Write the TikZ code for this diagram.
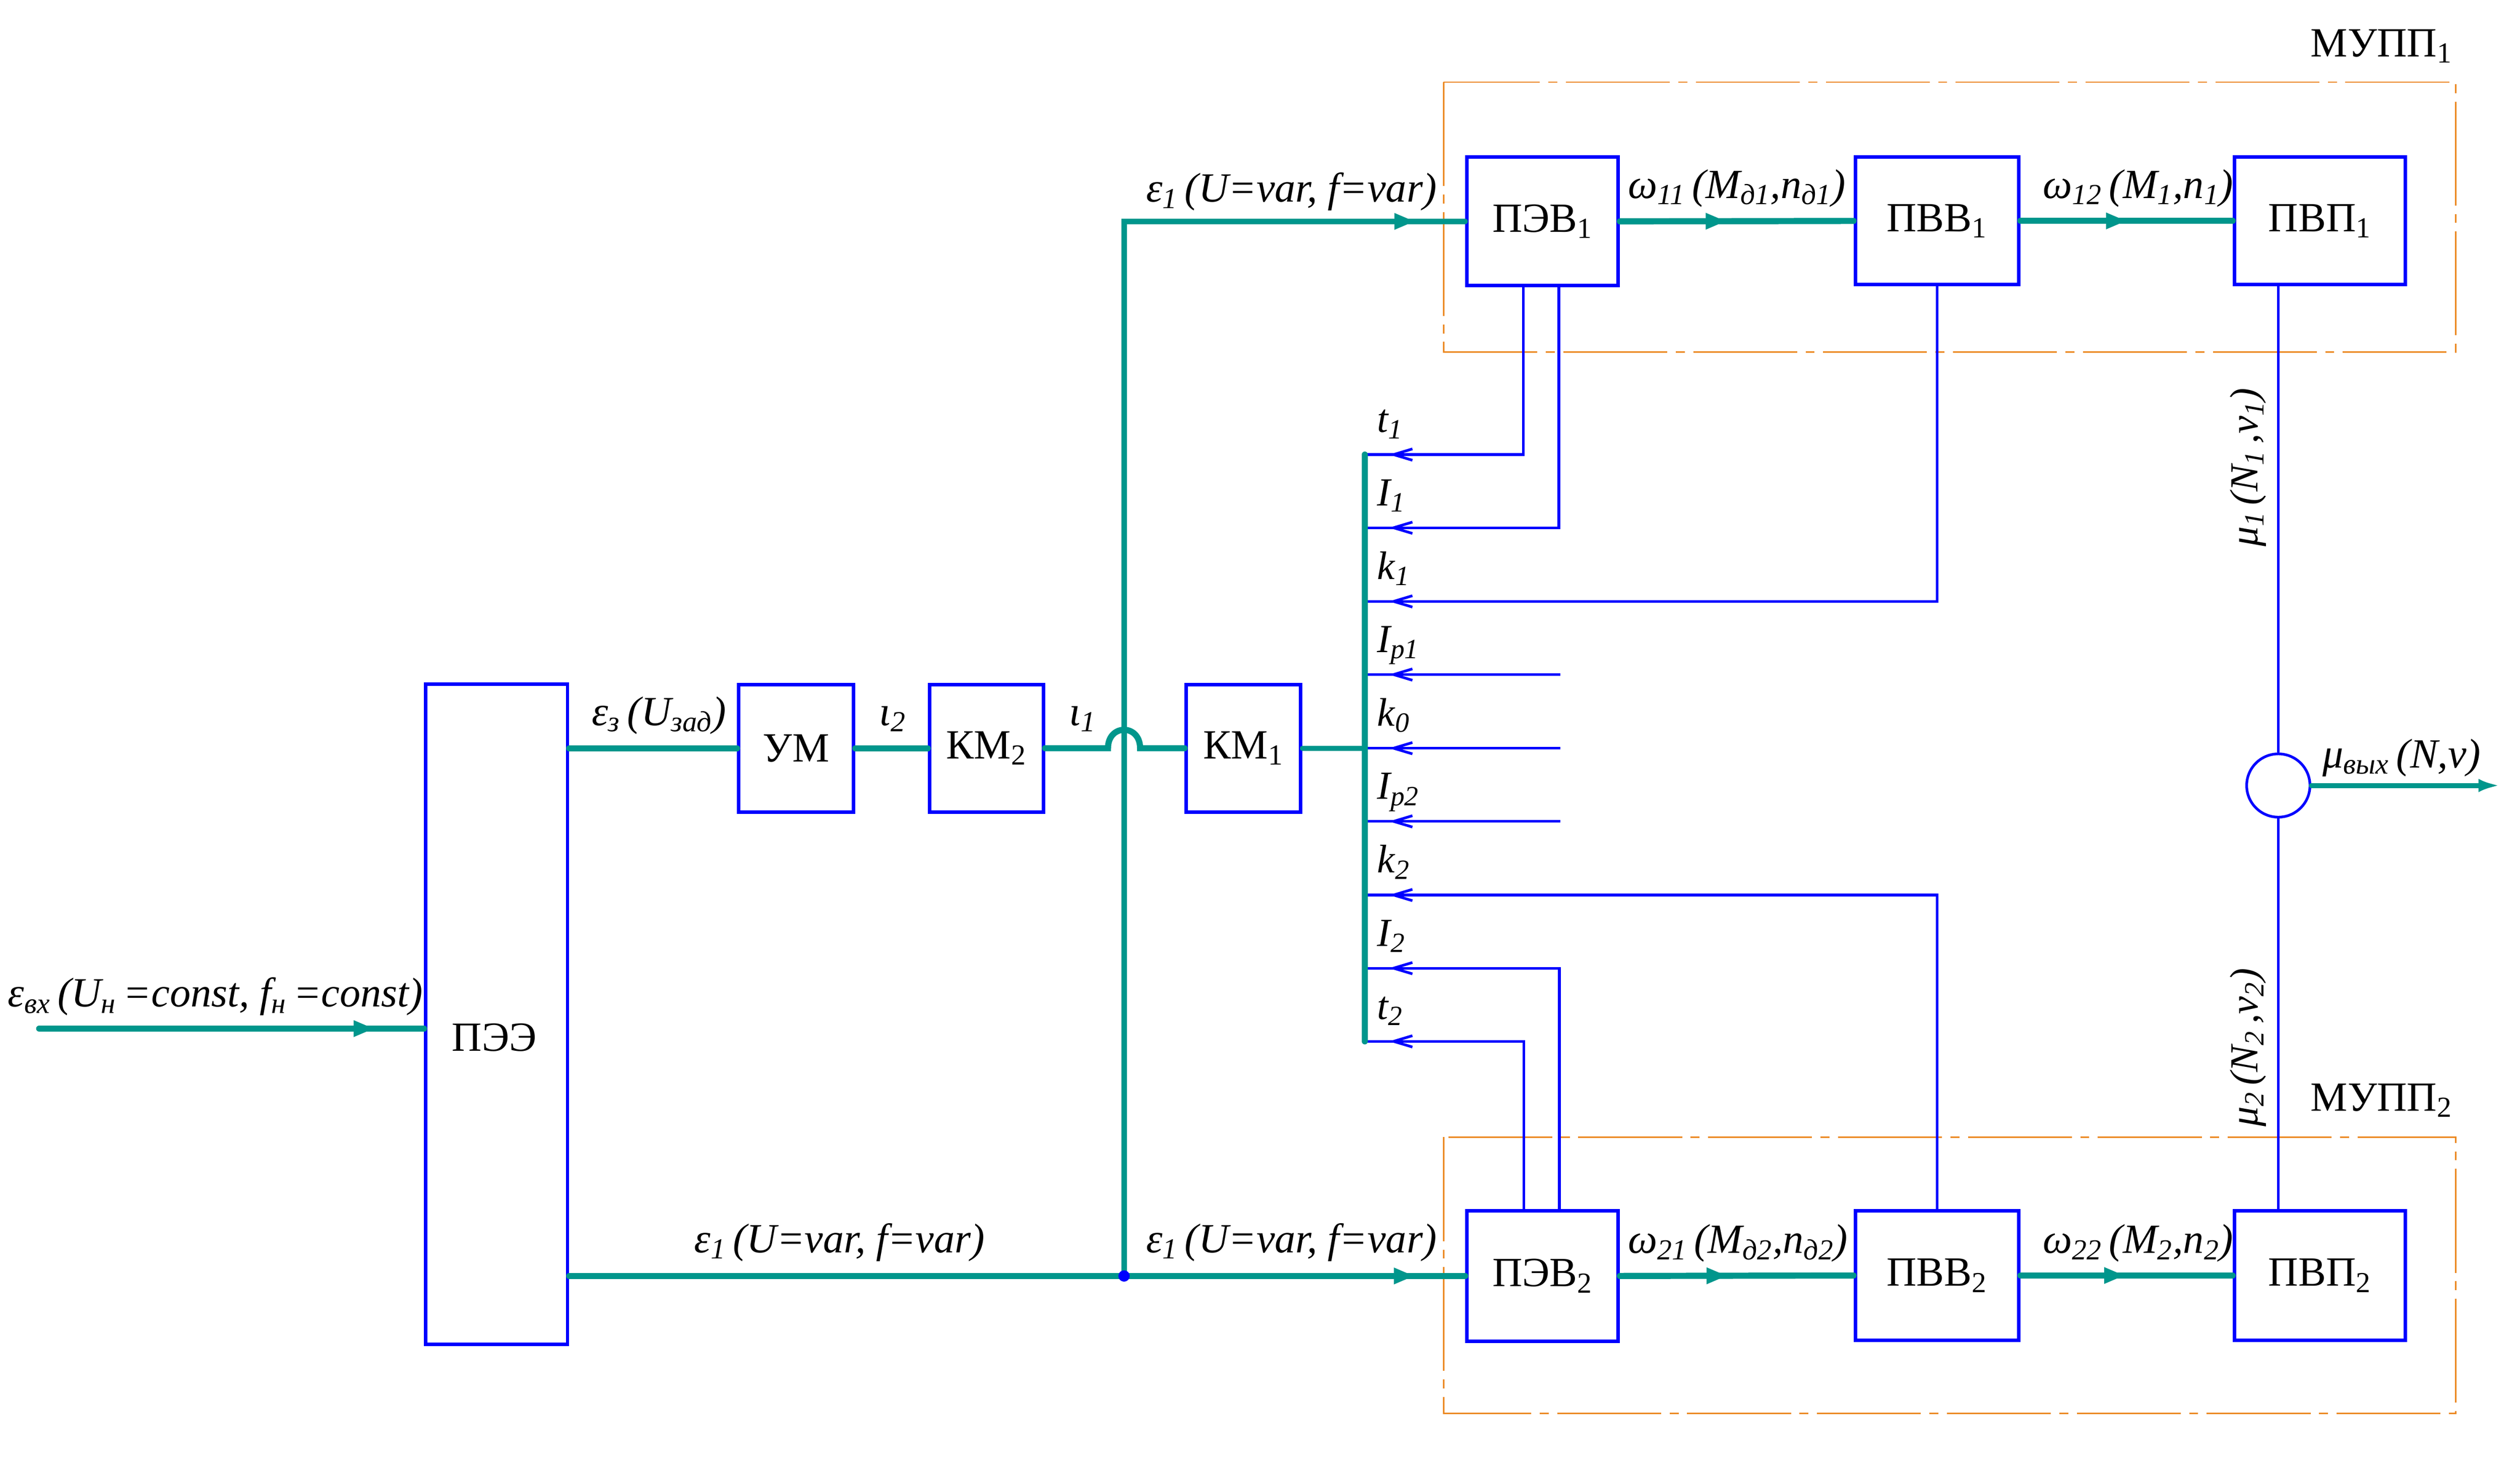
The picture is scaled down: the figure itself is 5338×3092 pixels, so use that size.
\documentclass[tikz,border=0pt]{standalone}
\usepackage{fontspec}
\setmainfont{Liberation Serif}
\usetikzlibrary{arrows.meta,decorations.markings,calc}
\definecolor{teal1}{RGB}{0,150,140}
\definecolor{blu}{RGB}{0,0,255}
\definecolor{orng}{RGB}{235,135,30}
\begin{document}
\begin{tikzpicture}[x=0.01cm,y=-0.01cm,
 blk/.style={draw=blu,line width=2.1pt,fill=white,inner sep=0pt,font=\fontsize{25}{30}\selectfont},
 sig/.style={draw=teal1,line width=3.7pt,line cap=round},
 fb/.style={draw=blu,line width=1.6pt},
 tarr/.style={postaction={decorate,decoration={markings,mark=at position #1 with {\arrow{Triangle[length=0.44cm,width=0.32cm]}}}}},
 barr/.style={postaction={decorate,decoration={markings,mark=at position #1 with {\arrow{Straight Barb[length=0.4cm,width=0.24cm,line width=1.6pt]}}}}},
 lbl/.style={anchor=base west,inner sep=0pt,font=\itshape\fontsize{25}{30}\selectfont},
 slbl/.style={anchor=base west,inner sep=0pt,font=\itshape\fontsize{24}{28}\selectfont},
 rlbl/.style={rotate=90,inner sep=0pt,font=\itshape\fontsize{24}{28}\selectfont},
 grp/.style={draw=orng,line width=0.8pt,dash pattern=on 2.2cm off 0.18cm on 0.19cm off 0.18cm},
 ttl/.style={anchor=base west,inner sep=0pt,font=\fontsize{25}{30}\selectfont},
]
\fill[white] (0,0) rectangle (5338,3092);
\useasboundingbox (0,0) rectangle (5338,3092);

% group frames
\draw[grp] (3058,174) rectangle (5202,746);
\draw[grp] (3058,2409) rectangle (5202,2994);

% blocks
\node[blk,minimum width=3cm,minimum height=13.97cm] (pee) at (1052,2148.5) {};
\node[inner sep=0pt,font=\fontsize{25}{30}\selectfont] (peet) at (1047,2198) {ПЭЭ};
\node[blk,minimum width=2.43cm,minimum height=2.7cm] (um) at (1686.5,1585) {УМ};
\node[blk,minimum width=2.41cm,minimum height=2.7cm] (km2) at (2089.5,1585) {КМ\textsubscript{2}};
\node[blk,minimum width=2.42cm,minimum height=2.7cm] (km1) at (2634,1585) {КМ\textsubscript{1}};
\node[blk,minimum width=3.2cm,minimum height=2.72cm] (pev1) at (3267.5,469) {ПЭВ\textsubscript{1}};
\node[blk,minimum width=3.46cm,minimum height=2.7cm] (pvv1) at (4103,468) {ПВВ\textsubscript{1}};
\node[blk,minimum width=3.62cm,minimum height=2.7cm] (pvp1) at (4914,468) {ПВП\textsubscript{1}};
\node[blk,minimum width=3.2cm,minimum height=2.76cm] (pev2) at (3267.5,2703) {ПЭВ\textsubscript{2}};
\node[blk,minimum width=3.46cm,minimum height=2.74cm] (pvv2) at (4103,2702) {ПВВ\textsubscript{2}};
\node[blk,minimum width=3.62cm,minimum height=2.74cm] (pvp2) at (4914,2702) {ПВП\textsubscript{2}};
\node[circle,draw=blu,line width=1.6pt,fill=white,minimum size=1.34cm,inner sep=0pt] (sum) at (4826,1664) {};

% coordinates
\coordinate (in) at (83,2179);
\coordinate (jn) at (2381,2703);
\coordinate (cr) at (2381,1585);
\coordinate (bt) at (2891,963);
\coordinate (bb) at (2891,2206);
\coordinate (ft1) at (3227,963);
\coordinate (fi1) at (3302,1118);
\coordinate (fk1) at (4103,1274);
\coordinate (fp1) at (3305,1429);
\coordinate (fk0) at (3305,1585);
\coordinate (fp2) at (3305,1740);
\coordinate (fk2) at (4103,1896);
\coordinate (fi2) at (3303,2051);
\coordinate (ft2) at (3228,2206);
\coordinate (out) at (5296,1664);

% power / signal lines
\draw[sig,tarr=-1.05cm] (in) -- (in -| pee.west);
\draw[sig] (pee.east |- um.west) -- (um.west);
\draw[sig] (um.east) -- (km2.west);
\draw[sig,line width=3.2pt,tarr=-1.06cm] (jn) |- (pev1.west);
\draw[sig] (km2.east) -- ($(cr)+(-34,0)$) .. controls ($(cr)+(-34,-52)$) and ($(cr)+(34,-52)$) .. ($(cr)+(34,0)$) -- (km1.west);
\draw[sig,tarr=-1.07cm] (pee.east |- pev2.west) -- (pev2.west);
\node[circle,fill=blu,inner sep=0pt,minimum size=0.24cm] (dot) at (jn) {};
\draw[sig,tarr=-2.69cm] (pev1.east) -- (pvv1.west);
\draw[sig,tarr=-2.24cm] (pvv1.east) -- (pvp1.west);
\draw[sig,tarr=-2.67cm] (pev2.east) -- (pvv2.west);
\draw[sig,tarr=-2.28cm] (pvv2.east) -- (pvp2.west);

% feedback lines
\draw[fb,barr=-0.51cm] (pev1.south -| ft1) -- (ft1) -- (ft1 -| bt);
\draw[fb,barr=-0.51cm] (pev1.south -| fi1) -- (fi1) -- (fi1 -| bt);
\draw[fb,barr=-0.51cm] (pvv1.south) -- (fk1) -- (fk1 -| bt);
\draw[fb,barr=-0.51cm] (fp1) -- (fp1 -| bt);
\draw[fb,barr=-0.51cm] (fk0) -- (fk0 -| bt);
\draw[fb,barr=-0.51cm] (fp2) -- (fp2 -| bt);
\draw[fb,barr=-0.51cm] (pvv2.north) -- (fk2) -- (fk2 -| bt);
\draw[fb,barr=-0.51cm] (pev2.north -| fi2) -- (fi2) -- (fi2 -| bt);
\draw[fb,barr=-0.51cm] (pev2.north -| ft2) -- (ft2) -- (ft2 -| bt);

% bus
\draw[sig,line width=3pt] (km1.east) -- (km1.east -| bt);
\draw[sig] (bt) -- (bb);

% output part
\draw[fb] (pvp1.south -| sum) -- (sum.north);
\draw[fb] (pvp2.north -| sum) -- (sum.south);
\draw[sig,line width=3pt,-{Latex[length=0.46cm,width=0.28cm]}] (sum.east) -- (out);

% labels
\node[lbl] (lin) at (16,2133) {ε\textsubscript{вх}\,(U\textsubscript{н}\,=const, f\textsubscript{н}\,=const)};
\node[lbl] (le3) at (1253,1537) {ε\textsubscript{з}\,(U\textsubscript{зад})};
\node[lbl] (li2) at (1862,1537) {ι\textsubscript{2}};
\node[lbl] (li1) at (2264,1537) {ι\textsubscript{1}};
\node[lbl] (le1t) at (2427,428) {ε\textsubscript{1}\,(U=var, f=var)};
\node[lbl] (le1b) at (1470,2653) {ε\textsubscript{1}\,(U=var, f=var)};
\node[lbl] (le1c) at (2427,2653) {ε\textsubscript{1}\,(U=var, f=var)};
\node[lbl] (lw11) at (3448,420) {ω\textsubscript{11}\,(M\textsubscript{д1},n\textsubscript{д1})};
\node[lbl] (lw12) at (4327,420) {ω\textsubscript{12}\,(M\textsubscript{1},n\textsubscript{1})};
\node[lbl] (lw21) at (3448,2655) {ω\textsubscript{21}\,(M\textsubscript{д2},n\textsubscript{д2})};
\node[lbl] (lw22) at (4327,2655) {ω\textsubscript{22}\,(M\textsubscript{2},n\textsubscript{2})};
\node[lbl] (lmo) at (4919,1626) {μ\textsubscript{вых}\,(N,v)};
\node[rlbl] (lmu1) at (4762,990) {μ\textsubscript{1}\,(N\textsubscript{1}\,,v\textsubscript{1})};
\node[rlbl] (lmu2) at (4762,2219) {μ\textsubscript{2}\,(N\textsubscript{2}\,,v\textsubscript{2})};
\node[ttl] (lm1) at (4894,120) {МУПП\textsubscript{1}};
\node[ttl] (lm2) at (4894,2353) {МУПП\textsubscript{2}};

\node[slbl] (lt1) at (2917,916) {t\textsubscript{1}};
\node[slbl] (lI1) at (2917,1071) {I\textsubscript{1}};
\node[slbl] (lk1) at (2917,1227) {k\textsubscript{1}};
\node[slbl] (lIp1) at (2917,1382) {I\textsubscript{p1}};
\node[slbl] (lk0) at (2917,1538) {k\textsubscript{0}};
\node[slbl] (lIp2) at (2917,1693) {I\textsubscript{p2}};
\node[slbl] (lk2) at (2917,1849) {k\textsubscript{2}};
\node[slbl] (lI2) at (2917,2004) {I\textsubscript{2}};
\node[slbl] (lt2) at (2917,2159) {t\textsubscript{2}};
\end{tikzpicture}
\end{document}
